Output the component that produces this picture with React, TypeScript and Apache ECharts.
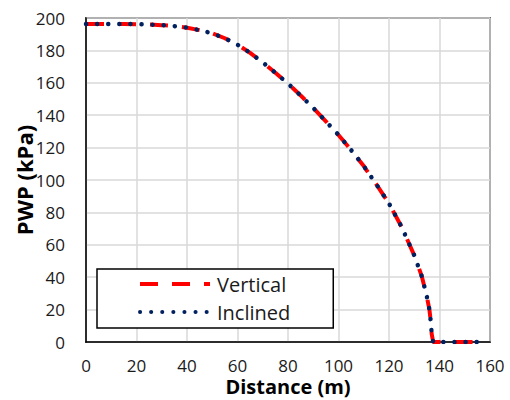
import React, { useEffect, useRef } from "react";
import * as echarts from "echarts";

const distance = [0, 5, 10, 15, 20, 25, 30, 35, 40, 45, 50, 55, 60, 65, 70, 75, 80, 85, 90, 95, 100, 105, 110, 115, 120, 125, 130, 133, 135, 136, 136.6, 136.9, 137.5, 140, 145, 150, 155, 158];
const vertical = [196.3, 196.3, 196.3, 196.3, 196.2, 196, 195.6, 195, 194, 192.5, 190.5, 187.5, 183.5, 178.5, 172.6, 166.2, 159.5, 152.2, 144.5, 136.2, 127.8, 118.5, 108.6, 97.3, 85.5, 71, 53.5, 40.5, 28, 20, 12, 5, 0, 0, 0, 0, 0, 0];
const inclined = [196.3, 196.3, 196.3, 196.3, 196.2, 196, 195.6, 195, 194, 192.5, 190.5, 187.5, 183.5, 178.5, 172.6, 166.2, 159.5, 152.2, 144.5, 136.2, 127.8, 118.5, 108.6, 97.3, 85.5, 71, 53.5, 40.5, 28, 20, 12, 5, 0, 0, 0, 0, 0, 0];
const seriesNames = ["Vertical", "Inclined"];
const xTitle = "Distance (m)";
const yTitle = "PWP (kPa)";

const FONT = "Open Sans";

export default function App() {
  const ref = useRef<HTMLDivElement>(null);
  useEffect(() => {
    if (!ref.current) return;
    const chart = echarts.init(ref.current, undefined, { renderer: "svg" });
    chart.setOption({
      animation: false,
      backgroundColor: "#ffffff",
      grid: {
        left: 86,
        right: 20,
        top: 18,
        bottom: 58,
        show: true,
        borderColor: "#000",
        borderWidth: 1.5,
        containLabel: false,
        outerBoundsMode: "none",
      },
      legend: {
        orient: "vertical",
        left: 97,
        top: 269,
        padding: [5, 43, 6, 41],
        itemWidth: 70,
        itemHeight: 14,
        itemGap: 8,
        borderColor: "#000",
        borderWidth: 1.5,
        borderRadius: 0,
        backgroundColor: "#fff",
        data: seriesNames,
        lineStyle: { width: 4 },
        itemStyle: { color: "transparent", borderColor: "transparent", borderWidth: 0, opacity: 0 },
        textStyle: { fontFamily: FONT, fontSize: 20, color: "#1a1a1a", lineHeight: 20, padding: [0, 0, 0, 2] },
      },
      xAxis: {
        type: "value",
        min: 0,
        max: 160,
        interval: 20,
        name: xTitle,
        nameLocation: "middle",
        nameGap: 34,
        nameMoveOverlap: false,
        nameTextStyle: { fontFamily: FONT, fontSize: 20, lineHeight: 20, fontWeight: "bold", color: "#000" },
        axisLine: { show: true, onZero: false, lineStyle: { color: "#000", width: 1.5 } },
        axisTick: { show: false },
        axisLabel: { fontFamily: FONT, fontSize: 17, lineHeight: 17, color: "#1a1a1a", margin: 15 },
        splitLine: { show: true, lineStyle: { color: "#d9d9d9", width: 1.5 } },
      },
      yAxis: {
        type: "value",
        min: 0,
        max: 200,
        interval: 20,
        name: yTitle,
        nameLocation: "middle",
        nameGap: 51,
        nameMoveOverlap: false,
        nameTextStyle: { fontFamily: FONT, fontSize: 22, fontWeight: "bold", color: "#000" },
        axisLine: { show: true, lineStyle: { color: "#000", width: 1.5 } },
        axisTick: { show: false },
        axisLabel: { fontFamily: FONT, fontSize: 17, color: "#1a1a1a", margin: 21 },
        splitLine: { show: true, lineStyle: { color: "#d9d9d9", width: 1.5 } },
      },
      series: [
        {
          name: seriesNames[0],
          type: "line",
          data: distance.map((d, i) => [d, vertical[i]]),
          symbol: "none",
          showSymbol: false,
          lineStyle: { color: "#ff0000", width: 4, type: [18, 14], cap: "butt" },
          itemStyle: { color: "#ff0000" },
          z: 2,
        },
        {
          name: seriesNames[1],
          type: "line",
          data: distance.map((d, i) => [d, inclined[i]]),
          symbol: "none",
          showSymbol: false,
          lineStyle: { color: "#002060", width: 4.5, type: [0.1, 11], cap: "round" },
          itemStyle: { color: "#002060" },
          z: 3,
        },
      ],
    });
    return () => chart.dispose();
  }, []);
  return <div ref={ref} style={{ width: 510, height: 400, position: "absolute", left: 0, top: 0 }} />;
}
